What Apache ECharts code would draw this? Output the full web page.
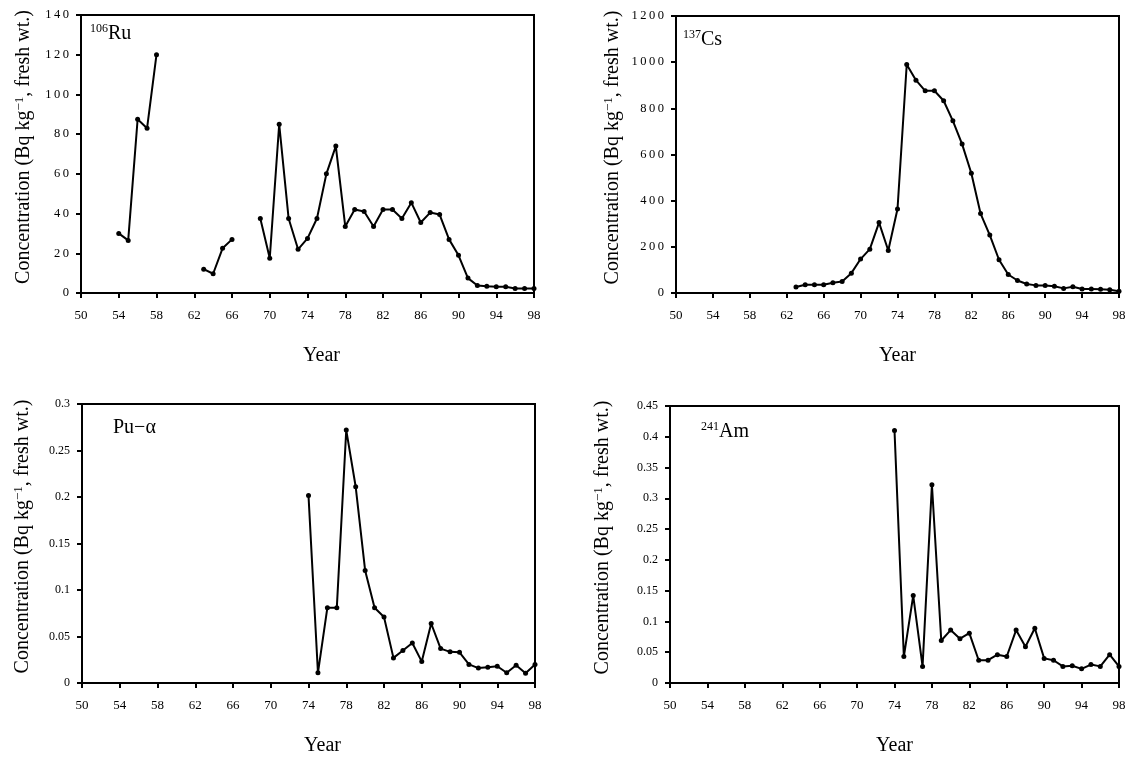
<!DOCTYPE html>
<html>
<head>
<meta charset="utf-8">
<script src="https://cdn.jsdelivr.net/npm/echarts@6/dist/echarts.min.js"></script>
<style>
html,body{margin:0;padding:0;background:#fff;}
#c{width:1130px;height:762px;}
</style>
</head>
<body>
<div id="c"></div>
<script>
// ---- data ----
const ruYears = [54,55,56,57,58,59,60,61,62,63,64,65,66,67,68,69,70,71,72,73,74,75,76,77,78,79,80,81,82,83,84,85,86,87,88,89,90,91,92,93,94,95,96,97,98];
const ruValues = [30,26.5,87.5,83,120,null,null,null,null,12,9.7,22.5,27,null,null,37.5,17.5,85,37.5,22,27.5,37.5,60,74,33.5,42,41,33.5,42,42,37.5,45.5,35.5,40.5,39.5,27,19,7.5,3.8,3.4,3.2,3.2,2.3,2.3,2.3];

const csYears = [63,64,65,66,67,68,69,70,71,72,73,74,75,76,77,78,79,80,81,82,83,84,85,86,87,88,89,90,91,92,93,94,95,96,97,98];
const csValues = [26,36,36,36,44,50,86,147,190,305,184,364,990,922,876,876,833,746,645,519,344,251,144,80,54,39,33,33,29,20,27,17,17,16,14,8];

const puYears = [74,75,76,77,78,79,80,81,82,83,84,85,86,87,88,89,90,91,92,93,94,95,96,97,98];
const puValues = [0.2015,0.011,0.081,0.081,0.272,0.211,0.121,0.081,0.071,0.027,0.035,0.043,0.023,0.064,0.037,0.0335,0.033,0.02,0.016,0.017,0.018,0.011,0.019,0.0105,0.02];

const amYears = [74,75,76,77,78,79,80,81,82,83,84,85,86,87,88,89,90,91,92,93,94,95,96,97,98];
const amValues = [0.41,0.043,0.142,0.027,0.322,0.069,0.086,0.072,0.081,0.037,0.037,0.046,0.043,0.086,0.059,0.089,0.04,0.037,0.027,0.028,0.023,0.03,0.027,0.046,0.027];

const panelLabels = [
  {sup:'106', main:'Ru'},
  {sup:'137', main:'Cs'},
  {sup:'', main:'Pu\u2212\u03b1'},
  {sup:'241', main:'Am'}
];
const yRanges = [[0,140,20],[0,1200,200],[0,0.3,0.05],[0,0.45,0.05]];
const xTickStart = 50, xTickEnd = 98, xTickStep = 4;
const xTitle = 'Year';
const yTitle = 'Concentration (Bq kg{s|\u22121}, fresh wt.)';

// ---- chart ----
const FONT = '"Liberation Serif","DejaVu Serif",serif';
const grids = [
  {left:81, top:15, width:453, height:278},
  {left:676, top:16, width:443, height:277},
  {left:82, top:404, width:453, height:279},
  {left:670, top:406, width:449, height:277}
];
const series = [[ruYears,ruValues],[csYears,csValues],[puYears,puValues],[amYears,amValues]];
const spaced = [true,true,false,false];
const yNameGap = [46, 52, 48, 56];
const labelPos = [[85,18],[678,24],[108,412],[696,416]];

const option = {
  animation:false,
  backgroundColor:'#fff',
  textStyle:{fontFamily:FONT},
  grid: grids.map(g => Object.assign({show:true, borderColor:'#000', borderWidth:2, containLabel:false}, g)),
  title: panelLabels.map((p,i) => ({
    text: (p.sup ? '{s|'+p.sup+'}' : '') + '{m|'+p.main+'}',
    left: labelPos[i][0],
    top: labelPos[i][1],
    textStyle:{
      fontFamily:FONT, fontWeight:'normal',
      rich:{
        s:{fontSize:12, fontFamily:FONT, fontWeight:'normal', color:'#000', verticalAlign:'top', lineHeight:22},
        m:{fontSize:20, fontFamily:FONT, fontWeight:'normal', color:'#000', lineHeight:22}
      }
    }
  })),
  xAxis: grids.map((g,i) => ({
    gridIndex:i, type:'value', min:xTickStart, max:xTickEnd, interval:xTickStep,
    name:xTitle, nameLocation:'middle', nameGap:53,
    nameTextStyle:{fontFamily:FONT, fontSize:20, color:'#000', padding:[0,0,0,i%2===0?28:0]},
    axisLine:{show:true, onZero:false, lineStyle:{color:'#000', width:2}},
    axisTick:{show:true, inside:false, length:5, lineStyle:{color:'#000', width:2}},
    axisLabel:{fontFamily:FONT, fontSize:13, color:'#000', margin:16},
    splitLine:{show:false}
  })),
  yAxis: grids.map((g,i) => ({
    gridIndex:i, type:'value', min:yRanges[i][0], max:yRanges[i][1], interval:yRanges[i][2],
    name:yTitle, nameLocation:'middle', nameGap: yNameGap[i], nameRotate:90,
    nameTextStyle:{fontFamily:FONT, fontSize:20, color:'#000', padding:[0,0,0,14],
      rich:{s:{fontSize:13, fontFamily:FONT, color:'#000', verticalAlign:'top', lineHeight:22}}},
    axisLine:{show:true, lineStyle:{color:'#000', width:2}},
    axisTick:{show:true, inside:false, length:5, lineStyle:{color:'#000', width:2}},
    axisLabel:{fontFamily:FONT, fontSize: spaced[i] ? 12.5 : 12, color:'#000', margin:12,
      formatter: v => { const s = String(+v.toFixed(4)); return spaced[i] ? s.split('').join('\u2009') : s; }},
    splitLine:{show:false}
  })),
  series: series.map((s,i) => ({
    type:'line', xAxisIndex:i, yAxisIndex:i,
    data: s[0].map((y,k) => [y, s[1][k] === null ? '-' : s[1][k]]),
    connectNulls:false,
    symbol:'circle', symbolSize:5, showSymbol:true,
    itemStyle:{color:'#000'},
    lineStyle:{color:'#000', width:2},
    clip:false
  }))
};
const chart = echarts.init(document.getElementById('c'), null, {renderer:'canvas'});
chart.setOption(option);
</script>
</body>
</html>
